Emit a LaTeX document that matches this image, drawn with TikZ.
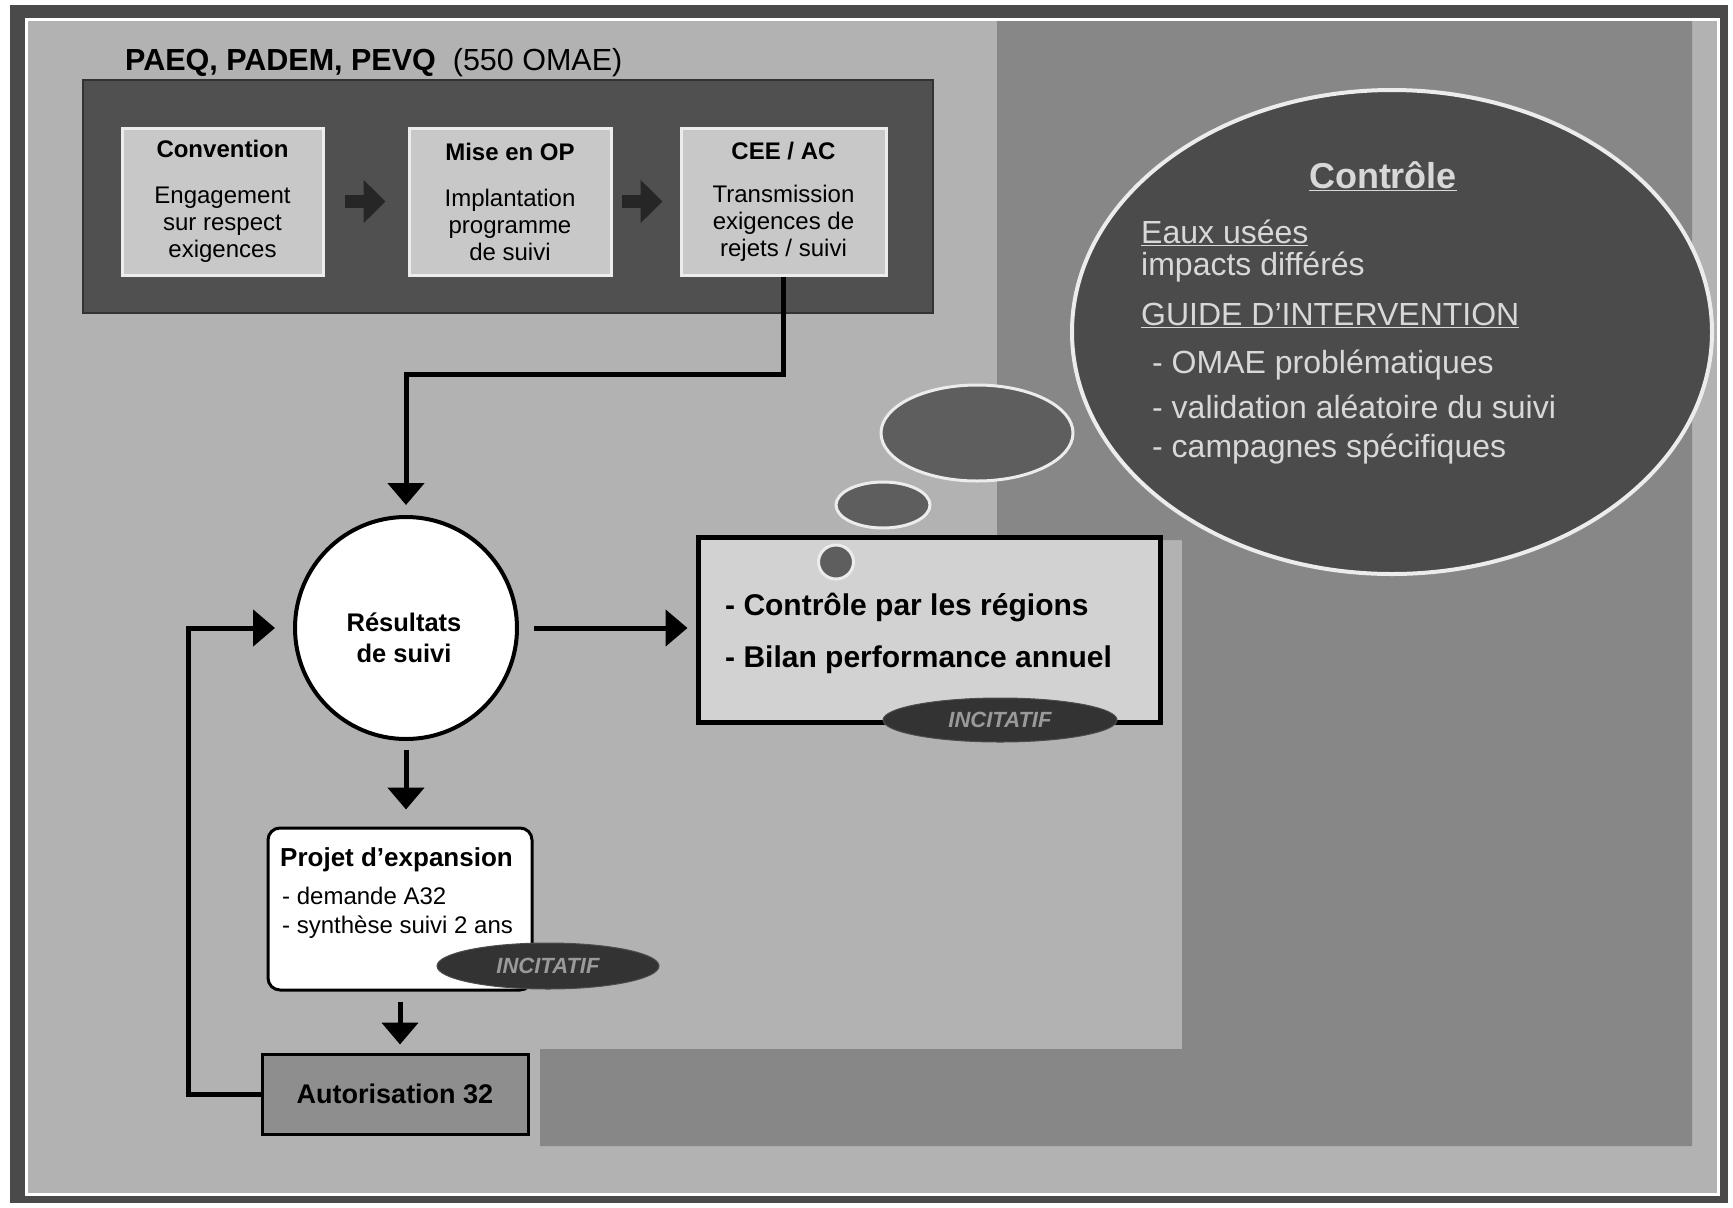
\documentclass[tikz,border=0pt]{standalone}
\usepackage{fontspec}
\setmainfont{Liberation Sans}
\usetikzlibrary{arrows.meta,shapes.geometric}
\newcommand\myfs[2]{\fontsize{#1}{#2}\selectfont}
\definecolor{bgmain}{HTML}{B2B2B2}
\definecolor{bgdark}{HTML}{878787}
\definecolor{framedark}{HTML}{4A4A4A}
\definecolor{topfill}{HTML}{505050}
\definecolor{innerfill}{HTML}{C8C8C8}
\definecolor{bigfill}{HTML}{4B4B4B}
\definecolor{bubfill}{HTML}{5E5E5E}
\definecolor{ctrlfill}{HTML}{D2D2D2}
\definecolor{autfill}{HTML}{8E8E8E}
\definecolor{incfill}{HTML}{333333}
\definecolor{inctext}{HTML}{9A9A9A}
\definecolor{elltext}{HTML}{D8D8D8}
\begin{document}
\begin{tikzpicture}[x=1pt,y=-1pt,
  conn/.style={draw=black,line width=5pt,-{Triangle[width=36pt,length=22pt]}},
  blockarr/.style={draw=black!85,line width=13pt,-{Triangle[width=42pt,length=22pt]}},
  innerbox/.style={rectangle,draw=white!85!gray,line width=3pt,fill=innerfill,inner sep=0pt,
     minimum height=147pt,align=center,font=\myfs{24pt}{27pt}},
  bubble/.style={ellipse,fill=bubfill,draw=white!85!gray,line width=3pt,inner sep=0pt},
  incit/.style={ellipse,fill=incfill,draw=black!70,line width=1pt,inner sep=0pt,
     text=inctext,font=\myfs{22pt}{24pt}\bfseries\itshape},
  elltxt/.style={anchor=base west,text=elltext,inner sep=0pt,font=\myfs{32pt}{34pt}},
  plain/.style={anchor=base west,inner sep=0pt}
]
\useasboundingbox (0,0) rectangle (1733,1208);
% frame and background
\fill[white] (0,0) rectangle (1733,1208);
\fill[framedark] (10,5) rectangle (1728,1203);
\fill[white] (25,18) rectangle (1720,1196);
\fill[bgmain] (28,21) rectangle (1717,1193);
\fill[bgdark] (997,21) -- (1692,21) -- (1692,1146) -- (540,1146) -- (540,1049)
   -- (1182,1049) -- (1182,540) -- (997,540) -- cycle;

% top group
\node[anchor=base west,inner sep=0pt,font=\myfs{30.5pt}{32pt}] (title) at (125,70)
  {\textbf{PAEQ, PADEM, PEVQ}\ \ (550 OMAE)};
\node[rectangle,fill=topfill,draw=black!80,line width=2pt,minimum width=850pt,
  minimum height=233pt,inner sep=0pt] (grp) at (508,196.5) {};
\node[innerbox,minimum width=201pt] (conv) at (222.5,201.5)
  {\textbf{Convention}\\[19pt]Engagement\\sur respect\\exigences};
\node[innerbox,minimum width=202pt] (mise) at (510,201.5)
  {\textbf{Mise en OP}\\[19pt]Implantation\\programme\\de suivi};
\node[innerbox,minimum width=205pt] (cee) at (783.5,201.5)
  {\textbf{CEE / AC}\\[16pt]Transmission\\exigences de\\rejets / suivi};
\draw[blockarr,shorten <=20pt,shorten >=22pt] (conv.east) -- (mise.west);
\draw[blockarr,shorten <=9pt,shorten >=17pt] (mise.east) -- (cee.west);

% big ellipse
\node[ellipse,fill=bigfill,draw=white!85!gray,line width=4pt,minimum width=640pt,
  minimum height=484pt,inner sep=0pt] (big) at (1392,332) {};
\node[anchor=base,text=elltext,inner sep=0pt,font=\myfs{36pt}{38pt}\bfseries] (ctitle) at (1383,188)
  {\underline{Contrôle}};
\node[elltxt] (l1) at (1141,243) {\underline{Eaux usées}};
\node[elltxt] (l2) at (1141,275) {impacts différés};
\node[elltxt] (l3) at (1141,325) {\underline{GUIDE D’INTERVENTION}};
\node[elltxt] (l4) at (1152,373) {- OMAE problématiques};
\node[elltxt] (l5) at (1152,418) {- validation aléatoire du suivi};
\node[elltxt] (l6) at (1152,457) {- campagnes spécifiques};

% control box
\node[rectangle,fill=ctrlfill,draw=black,line width=5pt,minimum width=462pt,
  minimum height=185pt,inner sep=0pt] (ctrl) at (929,629.5) {};
\node[plain,font=\myfs{30pt}{32pt}\bfseries] (c1) at (725,615) {- Contrôle par les régions};
\node[plain,font=\myfs{30pt}{32pt}\bfseries] (c2) at (725,667) {- Bilan performance annuel};
\node[incit,minimum width=234pt,minimum height=44pt] (inc2) at (1000,720) {INCITATIF};

% thought bubbles
\node[bubble,minimum width=192pt,minimum height=96pt] (b1) at (977,433) {};
\node[bubble,minimum width=94pt,minimum height=46pt] (b2) at (883,505) {};
\node[bubble,minimum width=35pt,minimum height=34pt] (b3) at (836,562) {};

% results circle
\node[circle,fill=white,draw=black,line width=4pt,minimum size=222pt,inner sep=0pt] (res) at (406,628) {};
\node[align=center,inner sep=0pt,font=\myfs{25.5pt}{31pt}\bfseries] (restext) at (404,638) {Résultats\\de suivi};

% projet box
\node[rectangle,rounded corners=12pt,fill=white,draw=black,line width=3pt,
  minimum width=264pt,minimum height=162pt,inner sep=0pt] (proj) at (400,909) {};
\node[plain,font=\myfs{26pt}{28pt}\bfseries] (p1) at (280,866) {Projet d’expansion};
\node[plain,font=\myfs{24pt}{26pt}] (p2) at (282,904) {- demande A32};
\node[plain,font=\myfs{24pt}{26pt}] (p3) at (282,933) {- synthèse suivi 2 ans};
\node[incit,minimum width=222pt,minimum height=46pt] (inc1) at (548,966) {INCITATIF};

% autorisation box
\node[rectangle,fill=autfill,draw=black,line width=3pt,minimum width=266pt,
  minimum height=80pt,inner sep=0pt,font=\myfs{27pt}{29pt}\bfseries] (aut) at (395,1094)
  {Autorisation 32};

% connectors
\draw[conn,shorten >=10pt] (cee.south) -- ++(0,98) -| (res.north);
\draw[conn,shorten <=15pt,shorten >=8pt] (res.east) -- (res.east -| ctrl.west);
\draw[conn,shorten <=9pt,shorten >=17pt] (res.south) -- (res.south |- proj.north);
\draw[conn,shorten <=10pt,shorten >=8pt] (proj.south) -- (proj.south |- aut.north);
\draw[conn,shorten >=18pt] (aut.west) -- ++(-72,0) |- (res.west);
\end{tikzpicture}
\end{document}
